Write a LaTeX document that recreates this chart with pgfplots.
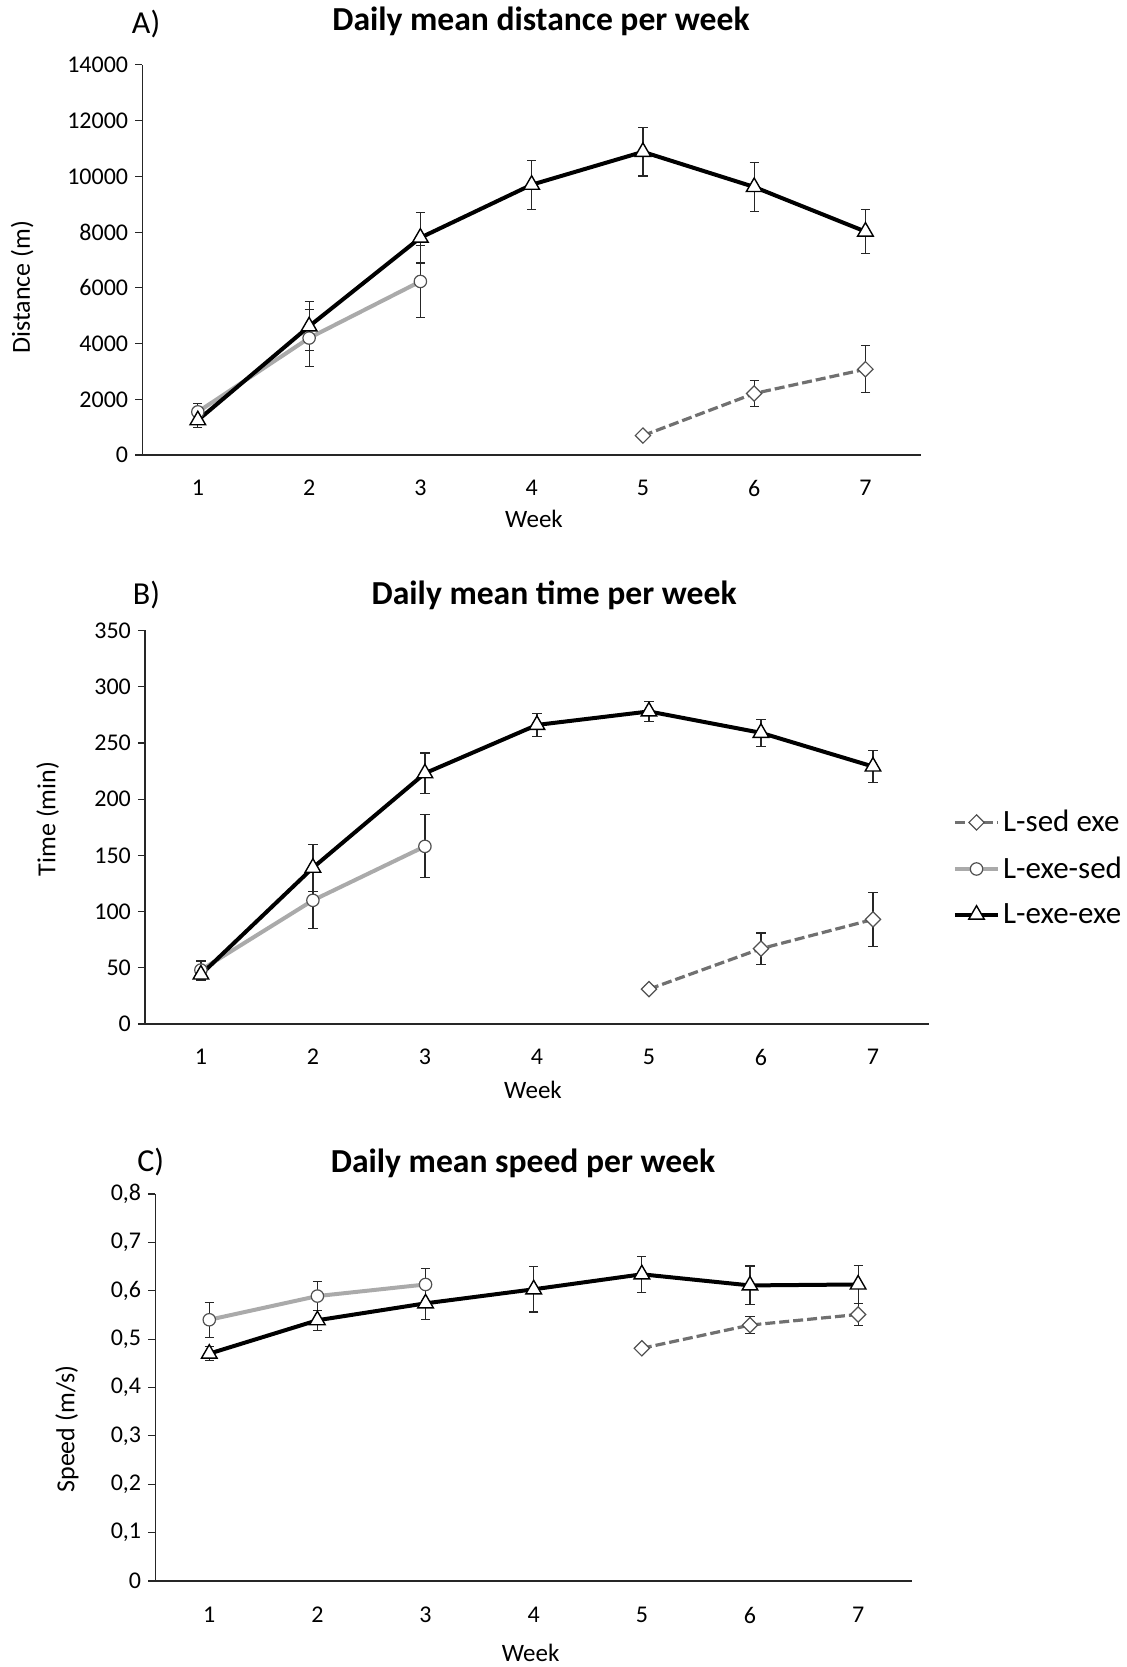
\documentclass[border=0pt]{standalone}
\usepackage{pgfplots}
\pgfplotsset{compat=1.18}
\usepackage{fontspec}
\setmainfont{Carlito}
\definecolor{lgray}{RGB}{170,170,170}
\definecolor{dgray}{RGB}{112,112,112}
\definecolor{mgray}{RGB}{80,80,80}

\pgfplotsset{
 panel/.style={
  scale only axis, xmin=0.5, xmax=7.5, ymin=0,
  axis x line*=bottom, axis y line*=left,
  axis line style={black!85, line width=0.6pt},
  xtick={1,...,7},
  x tick style={draw=none},
  y tick style={black!85, line width=0.6pt},
  tick align=outside, major tick length=3.5pt,
  ticklabel style={font=\fontsize{12}{14}\selectfont},
  /pgf/number format/assume math mode=true,
  xticklabel style={yshift=-5.5pt},
  scaled y ticks=false,
  clip=false,
  error bars/error bar style={black!85, line width=0.6pt, solid},
  error bars/error mark options={rotate=90, black!85, line width=0.6pt, mark size=2.3pt, solid},
 },
 sedexe/.style={dgray, line width=1.6pt, dash pattern=on 5pt off 2pt, mark=square*, mark size=2.7pt,
   mark options={fill=white, draw=mgray, line width=0.6pt, solid, rotate=45},
   /pgfplots/error bars/y dir=both, /pgfplots/error bars/y explicit},
 exesed/.style={lgray, line width=2pt, mark=*, mark size=3.1pt,
   mark options={fill=white, draw=mgray, line width=0.6pt, solid},
   /pgfplots/error bars/y dir=both, /pgfplots/error bars/y explicit},
 exeexe/.style={black, line width=2pt, mark=triangle*, mark size=4.5pt,
   mark options={fill=white, draw=black, line width=0.7pt, solid},
   /pgfplots/error bars/y dir=both, /pgfplots/error bars/y explicit},
}

\begin{document}
\begin{tikzpicture}
\path[use as bounding box] (0,0) rectangle (563pt,833.5pt);

% ---------------- A ----------------
\begin{axis}[panel, at={(71.1pt,605.95pt)}, anchor=south west,
  width=389.45pt, height=195.1pt,
  ymax=14000, ytick distance=2000,
  /pgf/number format/1000 sep={}]
\addplot[sedexe] coordinates {(5,700)+-(0,100) (6,2210)+-(0,480) (7,3080)+-(0,840)};
\addplot[exesed] coordinates {(1,1550)+-(0,300) (2,4200)+-(0,1020) (3,6230)+-(0,1290)};
\addplot[exeexe] coordinates {(1,1250)+-(0,250) (2,4620)+-(0,880) (3,7800)+-(0,910) (4,9700)+-(0,880) (5,10880)+-(0,870) (6,9620)+-(0,870) (7,8020)+-(0,790)};
\node[font=\fontsize{16.8}{20}\selectfont\bfseries] at (axis description cs:0.512,1.112) {Daily mean distance per week};
\node[font=\fontsize{16}{19}\selectfont] at (axis description cs:0.005,1.106) {A)};
\node[font=\fontsize{13}{15}\selectfont, rotate=90] at (axis description cs:-0.154,0.43) {Distance (m)};
\node[font=\fontsize{12.5}{15}\selectfont] at (axis description cs:0.503,-0.164) {Week};
\end{axis}

% ---------------- B ----------------
\begin{axis}[panel, at={(72.45pt,321.5pt)}, anchor=south west,
  width=392.05pt, height=196.75pt,
  ymax=350, ytick distance=50,
  legend style={at={(axis description cs:1.03,0.396)}, anchor=west, draw=none, fill=none,
    font=\fontsize{15.5}{18}\selectfont, row sep=8pt, inner sep=0pt, nodes={inner sep=1.5pt}},
  legend cell align=left,
  legend image code/.code={\draw[mark repeat=2,mark phase=2] plot coordinates {(0cm,0cm)(0.38cm,0cm)(0.76cm,0cm)};}]
\addplot[sedexe] coordinates {(5,31)+-(0,3) (6,67)+-(0,14) (7,93)+-(0,24)};
\addlegendentry{L-sed exe}
\addplot[exesed] coordinates {(1,48)+-(0,8) (2,110)+-(0,25) (3,158)+-(0,28)};
\addlegendentry{L-exe-sed}
\addplot[exeexe] coordinates {(1,44)+-(0,5) (2,139)+-(0,21) (3,223)+-(0,18) (4,266)+-(0,10) (5,278)+-(0,9) (6,259)+-(0,12) (7,229)+-(0,14)};
\addlegendentry{L-exe-exe}
\node[font=\fontsize{16.8}{20}\selectfont\bfseries] at (axis description cs:0.522,1.089) {Daily mean time per week};
\node[font=\fontsize{16}{19}\selectfont] at (axis description cs:0.002,1.089) {B)};
\node[font=\fontsize{13}{15}\selectfont, rotate=90] at (axis description cs:-0.124,0.521) {Time (min)};
\node[font=\fontsize{12.5}{15}\selectfont] at (axis description cs:0.495,-0.168) {Week};
\end{axis}

% ---------------- C ----------------
\begin{axis}[panel, at={(77.6pt,43pt)}, anchor=south west,
  width=378.5pt, height=193.5pt,
  ymax=0.8, ytick distance=0.1,
  yticklabel style={/pgf/number format/.cd, use comma, fixed, precision=1},
  xticklabel style={yshift=-0.5pt}]
\addplot[sedexe] coordinates {(5,0.481)+-(0,0.005) (6,0.529)+-(0,0.018) (7,0.551)+-(0,0.022)};
\addplot[exesed] coordinates {(1,0.540)+-(0,0.036) (2,0.589)+-(0,0.030) (3,0.613)+-(0,0.033)};
\addplot[exeexe] coordinates {(1,0.470)+-(0,0.014) (2,0.539)+-(0,0.021) (3,0.574)+-(0,0.033) (4,0.603)+-(0,0.047) (5,0.634)+-(0,0.037) (6,0.611)+-(0,0.040) (7,0.613)+-(0,0.040)};
\node[font=\fontsize{16.8}{20}\selectfont\bfseries] at (axis description cs:0.486,1.080) {Daily mean speed per week};
\node[font=\fontsize{16}{19}\selectfont] at (axis description cs:-0.006,1.083) {C)};
\node[font=\fontsize{13}{15}\selectfont, rotate=90] at (axis description cs:-0.1165,0.393) {Speed (m/s)};
\node[font=\fontsize{12.5}{15}\selectfont] at (axis description cs:0.496,-0.186) {Week};
\end{axis}
\end{tikzpicture}
\end{document}
